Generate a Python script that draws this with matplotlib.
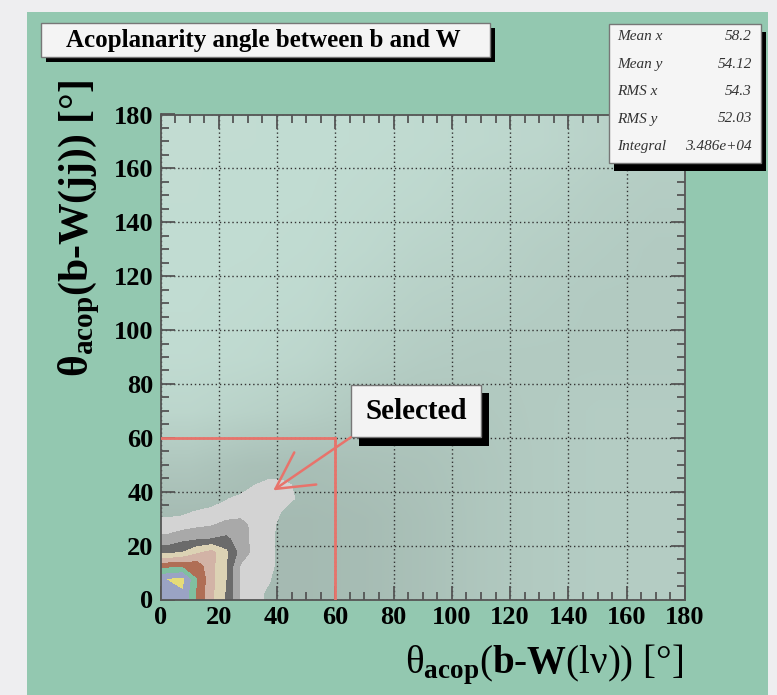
import numpy as np
import matplotlib
matplotlib.use('Agg')
import matplotlib.pyplot as plt
from matplotlib.colors import LinearSegmentedColormap
from matplotlib.patches import Rectangle

plt.rcParams['font.family'] = ['Liberation Serif', 'DejaVu Serif']
plt.rcParams['mathtext.fontset'] = 'custom'
plt.rcParams['mathtext.rm'] = 'Liberation Serif'
plt.rcParams['mathtext.it'] = 'Liberation Serif:italic'
plt.rcParams['mathtext.bf'] = 'Liberation Serif:bold'

# ---- data ----
# scatter density, 20 deg cells, rows = y (0-20 at bottom), cols = x
density = np.array([
    [0.90, 0.90, 0.90, 0.85, 0.75, 0.60, 0.50, 0.45, 0.45],
    [0.90, 0.90, 0.90, 0.85, 0.75, 0.60, 0.50, 0.45, 0.45],
    [0.60, 0.75, 0.80, 0.75, 0.70, 0.60, 0.50, 0.45, 0.45],
    [0.20, 0.30, 0.40, 0.55, 0.60, 0.55, 0.50, 0.45, 0.45],
    [0.08, 0.12, 0.20, 0.35, 0.45, 0.50, 0.50, 0.50, 0.50],
    [0.05, 0.08, 0.12, 0.25, 0.35, 0.40, 0.45, 0.50, 0.50],
    [0.04, 0.05, 0.08, 0.15, 0.25, 0.30, 0.40, 0.45, 0.50],
    [0.03, 0.04, 0.05, 0.10, 0.15, 0.25, 0.30, 0.40, 0.45],
    [0.03, 0.03, 0.04, 0.06, 0.10, 0.15, 0.20, 0.30, 0.40],
])

# contour levels near the origin
cont_x = [0, 2.5, 7.5, 12.5, 17.5, 22.5, 27.5, 32.5, 37.5, 42.5, 47.5, 52.5, 57.5]
cont_y = [0, 2.5, 7.5, 12.5, 17.5, 22.5, 27.5, 32.5, 37.5, 42.5, 47.5, 52.5, 57.5]
cont_z = np.array([
    [8.2, 8.5, 8.9, 6.8, 5.2, 3.9, 1.9, 1.3, 0.8, 0.2, 0, 0, 0],
    [8.2, 8.5, 8.9, 6.8, 5.2, 3.9, 1.9, 1.3, 0.8, 0.2, 0, 0, 0],
    [8.6, 9.0, 9.2, 7.0, 5.3, 4.0, 1.9, 1.5, 1.05, 0.2, 0, 0, 0],
    [6.6, 6.6, 6.7, 6.5, 5.3, 4.0, 1.9, 1.7, 1.3, 0.3, 0, 0, 0],
    [3.7, 3.7, 4.0, 4.8, 5.3, 4.2, 2.6, 1.6, 1.3, 0.3, 0, 0, 0],
    [2.3, 2.3, 2.7, 2.85, 3.0, 3.2, 2.5, 1.6, 1.3, 0.4, 0, 0, 0],
    [1.4, 1.4, 1.6, 1.8, 1.95, 2.3, 2.4, 1.6, 1.3, 0.5, 0, 0, 0],
    [0.7, 0.7, 0.75, 1.1, 1.4, 1.5, 1.6, 1.7, 1.6, 0.8, 0, 0, 0],
    [0, 0, 0, 0, 0.2, 0.9, 1.3, 1.6, 1.8, 1.5, 0.8, 0, 0],
    [0, 0, 0, 0, 0, 0, 0.3, 1.0, 1.8, 1.4, 0.6, 0, 0],
    [0, 0, 0, 0, 0, 0, 0, 0, 0, 0, 0, 0, 0],
    [0, 0, 0, 0, 0, 0, 0, 0, 0, 0, 0, 0, 0],
    [0, 0, 0, 0, 0, 0, 0, 0, 0, 0, 0, 0, 0],
])
cont_levels = [1, 2, 3, 4, 5, 6, 7, 8, 9, 20]
cont_colors = ['#d3d3d3', '#a9a9a9', '#6b6b6b', '#dcd2b4', '#d2b3a6',
               '#b06e55', '#80bfa0', '#9aa3c4', '#e6dc78']

cut = 60
arrow_tip = (38.7, 40.5)
stats_names = ['Mean x', 'Mean y', 'RMS x', 'RMS y', 'Integral']
stats_vals = ['58.2', '54.12', '54.3', '52.03', '3.486e+04']

W, H = 777, 695
fig = plt.figure(figsize=(W / 100, H / 100), dpi=100, facecolor='#eeeef0')


def fx(x):
    return x / W


def fy(y):
    return 1 - y / H


# green pad
fig.patches.append(Rectangle((fx(27), 0), fx(768) - fx(27), fy(12), transform=fig.transFigure,
                             facecolor='#93c8b0', edgecolor='none', zorder=-5))

ax = fig.add_axes([fx(160.5), fy(599.5), fx(685) - fx(160.5), fy(114.5) - fy(599.5)])
ax.set_facecolor('#c3ded4')

dens_cmap = LinearSegmentedColormap.from_list('dens', ['#c3ded4', '#a2b7af'])
ax.imshow(density, origin='lower', extent=(0, 180, 0, 180), cmap=dens_cmap, vmin=0, vmax=1,
          interpolation='bilinear', aspect='auto', zorder=0)

ax.contourf(cont_x, cont_y, cont_z, levels=cont_levels, colors=cont_colors, zorder=1)

ax.set_xlim(0, 180)
ax.set_ylim(0, 180)
ax.set_xticks(np.arange(0, 181, 20))
ax.set_yticks(np.arange(0, 181, 20))
ax.set_xticks(np.arange(0, 181, 5), minor=True)
ax.set_yticks(np.arange(0, 181, 5), minor=True)
ax.set_axisbelow(True)
ax.grid(True, which='major', color='#333333', linestyle=(0, (1, 2)), lw=1)
ax.tick_params(which='both', direction='in', top=True, right=True, color='#555555', width=1.3)
ax.tick_params(which='major', length=10, labelsize=19, pad=5)
ax.tick_params(which='minor', length=6)
for lab in ax.get_xticklabels() + ax.get_yticklabels():
    lab.set_fontweight('bold')
for sp in ax.spines.values():
    sp.set_color('#555555')
    sp.set_linewidth(1.3)

red = '#e8736b'
ax.plot([0, cut], [cut, cut], color=red, lw=2, zorder=3)
ax.plot([cut, cut], [0, cut], color=red, lw=2, zorder=3)

# "Selected" label with shadow
bx0, bx1, by0, by1 = 65.3, 109.9, 60.2, 79.7
ax.add_patch(Rectangle((bx0 + 2.8, by0 - 3.1), bx1 - bx0, by1 - by0, facecolor='black',
                       edgecolor='none', zorder=4, clip_on=False))
ax.add_patch(Rectangle((bx0, by0), bx1 - bx0, by1 - by0, facecolor='#f3f3f3',
                       edgecolor='#777777', lw=1, zorder=5, clip_on=False))
ax.text((bx0 + bx1) / 2, (by0 + by1) / 2, 'Selected', ha='center', va='center',
        fontsize=21, fontweight='bold', zorder=6)
ax.annotate('', xy=arrow_tip, xytext=(bx0, by0),
            arrowprops=dict(arrowstyle='->, head_length=1.3, head_width=0.7', mutation_scale=20,
                            color=red, lw=1.8, shrinkA=0, shrinkB=0), zorder=6)

# title box
fig.patches.append(Rectangle((fx(45.6), fy(62.3)), fx(489.6) - fx(40.6), fy(23.3) - fy(57.3),
                             transform=fig.transFigure, facecolor='black', edgecolor='none', zorder=2))
fig.patches.append(Rectangle((fx(40.6), fy(57.3)), fx(489.6) - fx(40.6), fy(23.3) - fy(57.3),
                             transform=fig.transFigure, facecolor='#f4f4f4', edgecolor='#777777',
                             lw=1, zorder=3))
fig.text(fx(263), fy(40.5), 'Acoplanarity angle between b and W', ha='center', va='center',
         fontsize=18, fontweight='bold', zorder=4)

# stats box
fig.patches.append(Rectangle((fx(614), fy(171)), fx(761) - fx(609), fy(24) - fy(163),
                             transform=fig.transFigure, facecolor='black', edgecolor='none', zorder=2))
fig.patches.append(Rectangle((fx(609), fy(163)), fx(761) - fx(609), fy(24) - fy(163),
                             transform=fig.transFigure, facecolor='#f5f5f5', edgecolor='#777777',
                             lw=1, zorder=3))
rows_y = [36.7, 64.3, 91.7, 119, 146.7]
for name, val, ry in zip(stats_names, stats_vals, rows_y):
    fig.text(fx(616.7), fy(ry), name, ha='left', va='center', fontsize=11, style='italic',
             color='#333333', zorder=4)
    fig.text(fx(752), fy(ry), val, ha='right', va='center', fontsize=11, style='italic',
             color='#333333', zorder=4)

# axis titles
fig.text(fx(683), fy(673), r'$\mathrm{\theta}_{\mathbf{acop}}$($\mathbf{b}$-$\mathbf{W}$(lν)) [°]',
         ha='right', va='baseline', fontsize=28)
fig.text(fx(88), fy(80), r'$\mathbf{\theta}_{\mathbf{acop}}$(b-W(jj)) [°]', rotation=90,
         rotation_mode='anchor', ha='right', va='baseline', fontsize=30, fontweight='bold')

fig.savefig('out.png', dpi=100, facecolor=fig.get_facecolor())
